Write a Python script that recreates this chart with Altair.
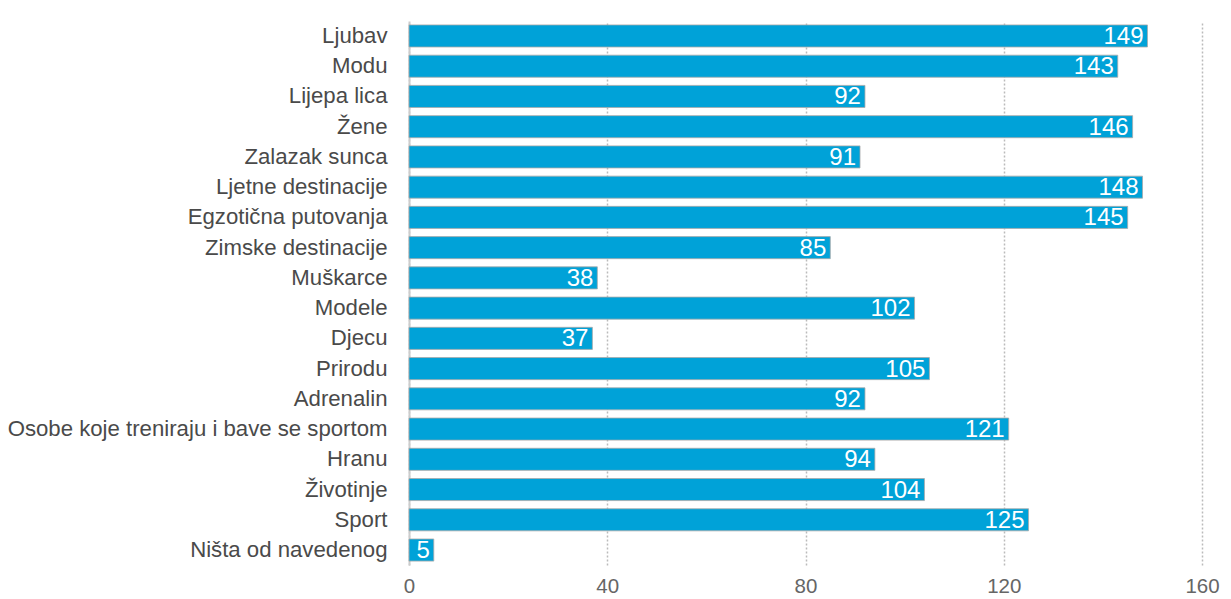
import altair as alt
import pandas as pd

categories = ["Ljubav", "Modu", "Lijepa lica", "Žene", "Zalazak sunca",
              "Ljetne destinacije", "Egzotična putovanja", "Zimske destinacije",
              "Muškarce", "Modele", "Djecu", "Prirodu", "Adrenalin",
              "Osobe koje treniraju i bave se sportom", "Hranu", "Životinje",
              "Sport", "Ništa od navedenog"]
values = [149, 143, 92, 146, 91, 148, 145, 85, 38, 102, 37, 105, 92, 121, 94, 104, 125, 5]
x_ticks = [0, 40, 80, 120, 160]

df = pd.DataFrame({"cat": categories, "val": values})
FONT = "Liberation Sans"

y_enc = alt.Y("cat:N", sort=categories, title=None,
              scale=alt.Scale(paddingInner=0.27, paddingOuter=0.13),
              axis=alt.Axis(ticks=False, labelPadding=22, labelFontSize=22.2,
                            labelColor="#4a4a4a", labelFont=FONT,
                            domainColor="#cccccc", domainWidth=2, grid=False,
                            labelLimit=600))
x_enc = alt.X("val:Q", title=None,
              scale=alt.Scale(domain=[0, 160], nice=False),
              axis=alt.Axis(values=x_ticks, domain=False, ticks=False, labelFlush=False,
                            labelFontSize=20.5, labelColor="#666666", labelFont=FONT,
                            labelPadding=11, grid=True, gridDash=[2, 2],
                            gridColor="#bbbbbb", gridWidth=1.5))

bars = alt.Chart(df).mark_bar(color="#00A2D8", stroke="#aaaaaa", strokeWidth=0.8).encode(
    x=x_enc, y=y_enc)

text = alt.Chart(df).mark_text(align="right", baseline="middle", dx=-4, dy=1,
                               color="white", fontSize=24, font=FONT).encode(
    x="val:Q", y=alt.Y("cat:N", sort=categories), text="val:Q")

chart = (bars + text).properties(
    width=793, height=544,
    autosize=alt.AutoSizeParams(type="none"),
    padding={"left": 401, "top": 13, "right": 20, "bottom": 30},
).configure_view(stroke=None)

chart.save("out.html", embed_options={"renderer": "svg", "actions": False})
